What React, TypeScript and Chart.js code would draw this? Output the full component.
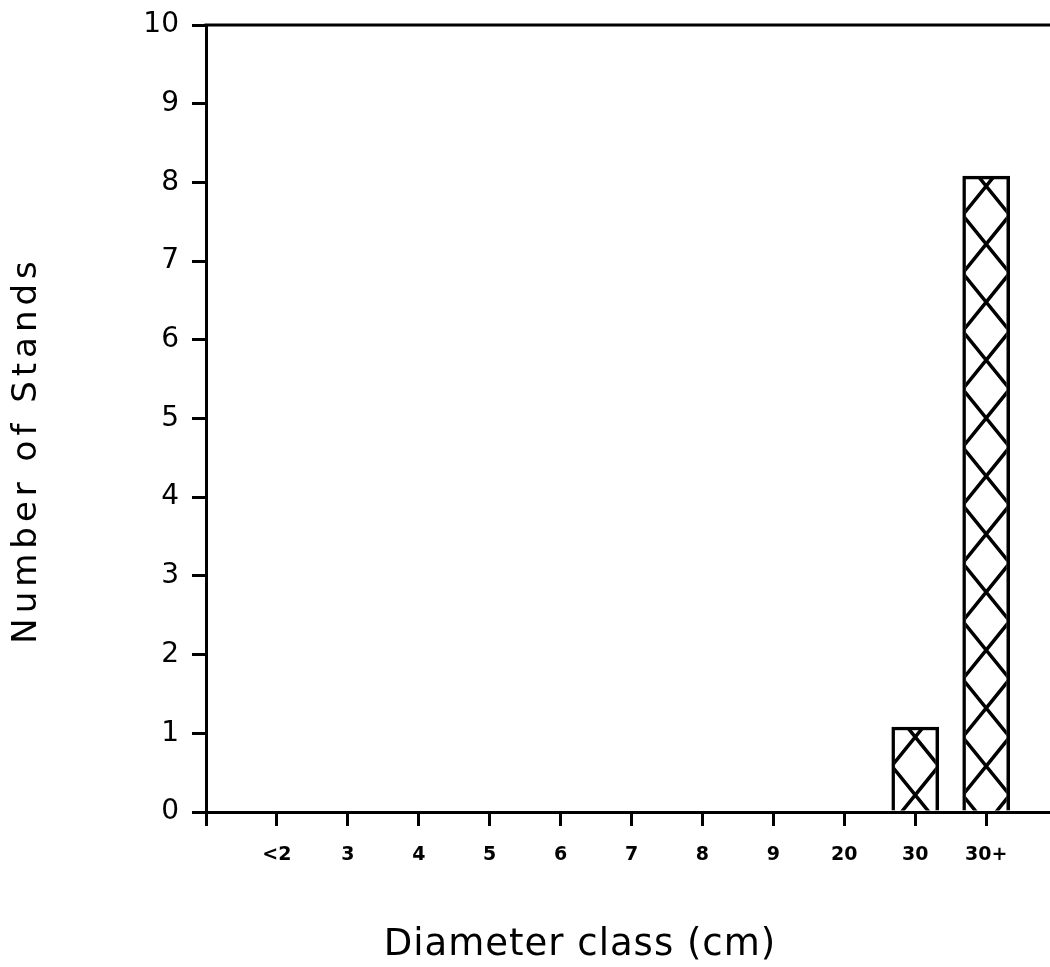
import React, { useEffect, useRef } from "react";
import { Chart, registerables } from "chart.js";

Chart.register(...registerables);

// ---- data ----
const categories: string[] = ["<2", "3", "4", "5", "6", "7", "8", "9", "20", "30", "30+"];
const stands: number[] = [0, 0, 0, 0, 0, 0, 0, 0, 0, 1.08, 8.08];
const xTickValues: number[] = [0, 1, 2, 3, 4, 5, 6, 7, 8, 9, 10, 11];
const xTitle = "Diameter class (cm)";
const yTitle = "Number of Stands";

const FONT = "DejaVu Sans";

const hatchPlugin = {
  id: "hatch",
  afterDatasetsDraw(chart: any) {
    const ctx = chart.ctx as CanvasRenderingContext2D;
    const meta = chart.getDatasetMeta(0);
    meta.data.forEach((bar: any) => {
      const { x, y, base, width } = bar.getProps(["x", "y", "base", "width"], true);
      const h = base - y;
      if (h < 2) return;
      const bw = 3;
      const left = x - width / 2;
      const right = x + width / 2;
      ctx.save();
      ctx.beginPath();
      ctx.rect(left + bw, y + bw, width - 2 * bw, h - bw);
      ctx.clip();
      ctx.strokeStyle = "#000";
      ctx.lineWidth = 3.5;
      const P = 58;
      const n = Math.ceil(h / P) + 2;
      ctx.beginPath();
      for (let k = -1; k <= n; k++) {
        const yc = y + 10 + k * P;
        ctx.moveTo(left, yc - P / 2);
        ctx.lineTo(right, yc + P / 2);
        ctx.moveTo(left, yc + P / 2);
        ctx.lineTo(right, yc - P / 2);
      }
      ctx.stroke();
      ctx.restore();
    });
  },
};

const frameAndTitles = {
  id: "frameAndTitles",
  afterDraw(chart: any) {
    const ctx = chart.ctx as CanvasRenderingContext2D;
    const { left, right, top } = chart.chartArea;
    ctx.save();
    ctx.strokeStyle = "#000";
    ctx.lineWidth = 3;
    ctx.beginPath();
    ctx.moveTo(left - 1.5, top);
    ctx.lineTo(right, top);
    ctx.stroke();

    ctx.fillStyle = "#000";
    ctx.font = `37px "${FONT}"`;
    (ctx as any).letterSpacing = "1px";
    ctx.textAlign = "center";
    ctx.textBaseline = "alphabetic";
    ctx.fillText(xTitle, 580, 955);

    ctx.translate(27, 450);
    ctx.rotate(-Math.PI / 2);
    ctx.font = `34px "${FONT}"`;
    (ctx as any).letterSpacing = "5px";
    ctx.textBaseline = "middle";
    ctx.fillText(yTitle, 0, 0);
    ctx.restore();
  },
};

export default function App() {
  const ref = useRef<HTMLCanvasElement | null>(null);
  useEffect(() => {
    if (!ref.current) return;
    const chart = new Chart(ref.current, {
      type: "bar",
      data: {
        datasets: [
          {
            data: categories.map((c, i) => ({ x: i + 1, y: stands[i] })),
            backgroundColor: "#fff",
            borderColor: "#000",
            borderWidth: 3.5,
            barThickness: 47,
          },
        ],
      },
      options: {
        animation: false,
        responsive: false,
        devicePixelRatio: 1,
        layout: { padding: { top: 25, left: 0, right: 0, bottom: 0 } },
        plugins: { legend: { display: false }, tooltip: { enabled: false } },
        scales: {
          x: {
            type: "linear",
            min: 0,
            max: 11.9,
            offset: false,
            afterBuildTicks: (scale: any) => {
              scale.ticks = xTickValues.map((v) => ({ value: v }));
            },
            afterFit: (scale: any) => {
              scale.height = 155;
              scale.paddingLeft = 0;
              scale.paddingRight = 0;
            },
            ticks: {
              autoSkip: false,
              maxRotation: 0,
              padding: 18,
              color: "#000",
              font: { family: FONT, size: 19, weight: "bold" },
              callback: (v: any) => (v === 0 ? "" : categories[v - 1]),
            },
            grid: {
              offset: false,
              drawOnChartArea: false,
              drawTicks: true,
              tickLength: 14,
              tickWidth: 3,
              tickColor: "#000",
              color: "#000",
              lineWidth: 3,
            },
            border: { display: true, color: "#000", width: 3 },
          },
          y: {
            min: 0,
            max: 10,
            afterFit: (scale: any) => {
              scale.width = 206;
              scale.paddingTop = 0;
              scale.paddingBottom = 0;
            },
            ticks: {
              stepSize: 1,
              padding: 13,
              color: "#000",
              font: { family: FONT, size: 28 },
            },
            grid: {
              drawOnChartArea: false,
              drawTicks: true,
              tickLength: 14,
              tickWidth: 3,
              tickColor: "#000",
              color: "#000",
              lineWidth: 3,
            },
            border: { display: true, color: "#000", width: 3 },
          },
        },
      },
      plugins: [hatchPlugin, frameAndTitles],
    });
    return () => chart.destroy();
  }, []);
  return (
    <div style={{ position: "absolute", left: 0, top: 0, width: 1050, height: 967, background: "#fff" }}>
      <canvas ref={ref} width={1050} height={967} style={{ display: "block" }} />
    </div>
  );
}
